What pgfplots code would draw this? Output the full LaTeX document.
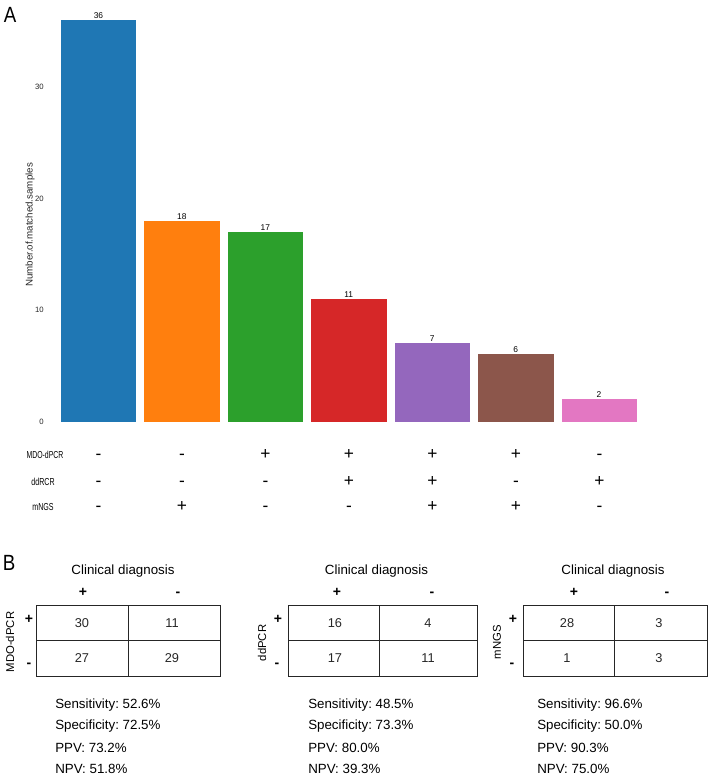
\documentclass[border=0pt]{standalone}
\usepackage{pgfplots}
\pgfplotsset{compat=1.18}
\usepackage{fontspec}
\setmainfont{Liberation Sans}
\usepackage{graphicx}
\definecolor{c1}{HTML}{1F77B4}
\definecolor{c2}{HTML}{FF7F0E}
\definecolor{c3}{HTML}{2CA02C}
\definecolor{c4}{HTML}{D62728}
\definecolor{c5}{HTML}{9467BD}
\definecolor{c6}{HTML}{8C564B}
\definecolor{c7}{HTML}{E377C2}
\frenchspacing
\begin{document}
\begin{tikzpicture}
\begin{scope}[x=0.75pt,y=-0.75pt]
\useasboundingbox (0,0) rectangle (708,776);
\end{scope}
\begin{axis}[
  at={(42.5625pt,-316.125pt)}, anchor=south west,
  scale only axis, width=438pt, height=309.4pt,
  xmin=-0.5, xmax=6.5, ymin=0, ymax=37,
  ybar, bar width=0.892, bar shift=0pt,
  axis line style={draw=none}, major tick style={draw=none},
  xtick=\empty, ytick={0,10,20,30},
  /pgf/number format/assume math mode=true,
  yticklabel style={font=\fontsize{5.8}{6}\selectfont, inner sep=0pt, xshift=-9.6pt, text=black!85},
  nodes near coords,
  every node near coord/.append style={font=\fontsize{6.3}{7}\selectfont, inner sep=1pt, text=black},
  clip=false,
]
\addplot[fill=c1, draw=c1] coordinates {(0,36)};
\addplot[fill=c2, draw=c2] coordinates {(1,18)};
\addplot[fill=c3, draw=c3] coordinates {(2,17)};
\addplot[fill=c4, draw=c4] coordinates {(3,11)};
\addplot[fill=c5, draw=c5] coordinates {(4,7)};
\addplot[fill=c6, draw=c6] coordinates {(5,6)};
\addplot[fill=c7, draw=c7] coordinates {(6,2)};
\end{axis}
\begin{scope}[x=0.75pt,y=-0.75pt,
  sg/.style={font=\fontsize{13}{14}\selectfont, text height=0.6em, text depth=0pt, inner sep=0pt},
  hs/.style={font=\fontsize{10.5}{12}\selectfont\bfseries, text height=0.6em, text depth=0pt, inner sep=0pt},
  tb/.style={font=\fontsize{10}{12}\selectfont, inner sep=0pt},
  nm/.style={font=\fontsize{9.6}{11}\selectfont, text=black!85, inner sep=0pt},
  rl/.style={font=\fontsize{8.5}{10}\selectfont, rotate=90, inner sep=0pt},
  st/.style={font=\fontsize{10}{12}\selectfont, anchor=west, inner sep=0pt},
  bx/.style={line width=0.6pt, draw=black!85}]
\node[font=\fontsize{16.5}{17}\selectfont, inner sep=0pt] at (10,14.5) {\scalebox{0.85}[1]{A}};
\node[font=\fontsize{16.5}{17}\selectfont, inner sep=0pt] at (9,563) {\scalebox{0.85}[1]{B}};
\node[font=\fontsize{7.3}{8}\selectfont, rotate=90, inner sep=0pt, text=black!85] at (30,225) {Number.of.matched.samples};
% matrix row labels
\node[font=\fontsize{7.6}{8}\selectfont, inner sep=0pt] at (45,455) {\scalebox{0.68}[1]{MDO-dPCR}};
\node[font=\fontsize{7.6}{8}\selectfont, inner sep=0pt] at (43,482) {\scalebox{0.7}[1]{ddRCR}};
\node[font=\fontsize{7.6}{8}\selectfont, inner sep=0pt] at (43,507) {\scalebox{0.7}[1]{mNGS}};
\foreach \i/\a/\b/\c in {0/-/-/-,1/-/-/+,2/+/-/-,3/+/+/-,4/+/+/+,5/+/-/+,6/-/+/-}{
  \node[sg] at ({98.5+83.5*\i},455) {\a};
  \node[sg] at ({98.5+83.5*\i},482) {\b};
  \node[sg] at ({98.5+83.5*\i},507) {\c};
}
% Table 1
\draw[bx] (36,605) rectangle (220,676);
\draw[bx] (128,605) -- (128,676);
\draw[bx] (36,640.5) -- (220,640.5);
\node[tb] at (123,571) {Clinical diagnosis};
\node[hs] at (83,592) {+};
\node[hs] at (178,592) {-};
\node[hs] at (29,619) {+};
\node[hs] at (29,663) {-};
\node[rl] at (10,642) {MDO-dPCR};
\node[nm] at (82,623) {30};
\node[nm] at (172,623) {11};
\node[nm] at (82,658) {27};
\node[nm] at (172,658) {29};
\node[st] at (55,705) {Sensitivity: 52.6\%};
\node[st] at (55,726) {Specificity: 72.5\%};
\node[st] at (55,748) {PPV: 73.2\%};
\node[st] at (55,769) {NPV: 51.8\%};
% Table 2
\draw[bx] (288,605) rectangle (477,676);
\draw[bx] (379.5,605) -- (379.5,676);
\draw[bx] (288,640.5) -- (477,640.5);
\node[tb] at (376.5,571) {Clinical diagnosis};
\node[hs] at (337,592) {+};
\node[hs] at (432,592) {-};
\node[hs] at (278,619) {+};
\node[hs] at (277,663) {-};
\node[rl] at (262,643) {ddPCR};
\node[nm] at (335,623) {16};
\node[nm] at (428,623) {4};
\node[nm] at (335,658) {17};
\node[nm] at (428,658) {11};
\node[st] at (308,705) {Sensitivity: 48.5\%};
\node[st] at (308,726) {Specificity: 73.3\%};
\node[st] at (308,748) {PPV: 80.0\%};
\node[st] at (308,769) {NPV: 39.3\%};
% Table 3
\draw[bx] (523,605) rectangle (707,676);
\draw[bx] (614,605) -- (614,676);
\draw[bx] (523,640.5) -- (707,640.5);
\node[tb] at (613,571) {Clinical diagnosis};
\node[hs] at (574,592) {+};
\node[hs] at (667,592) {-};
\node[hs] at (513,619) {+};
\node[hs] at (512,663) {-};
\node[rl] at (497,642) {mNGS};
\node[nm] at (567,623) {28};
\node[nm] at (659,623) {3};
\node[nm] at (567,658) {1};
\node[nm] at (659,658) {3};
\node[st] at (537,705) {Sensitivity: 96.6\%};
\node[st] at (537,726) {Specificity: 50.0\%};
\node[st] at (537,748) {PPV: 90.3\%};
\node[st] at (537,769) {NPV: 75.0\%};
\end{scope}
\end{tikzpicture}
\end{document}
